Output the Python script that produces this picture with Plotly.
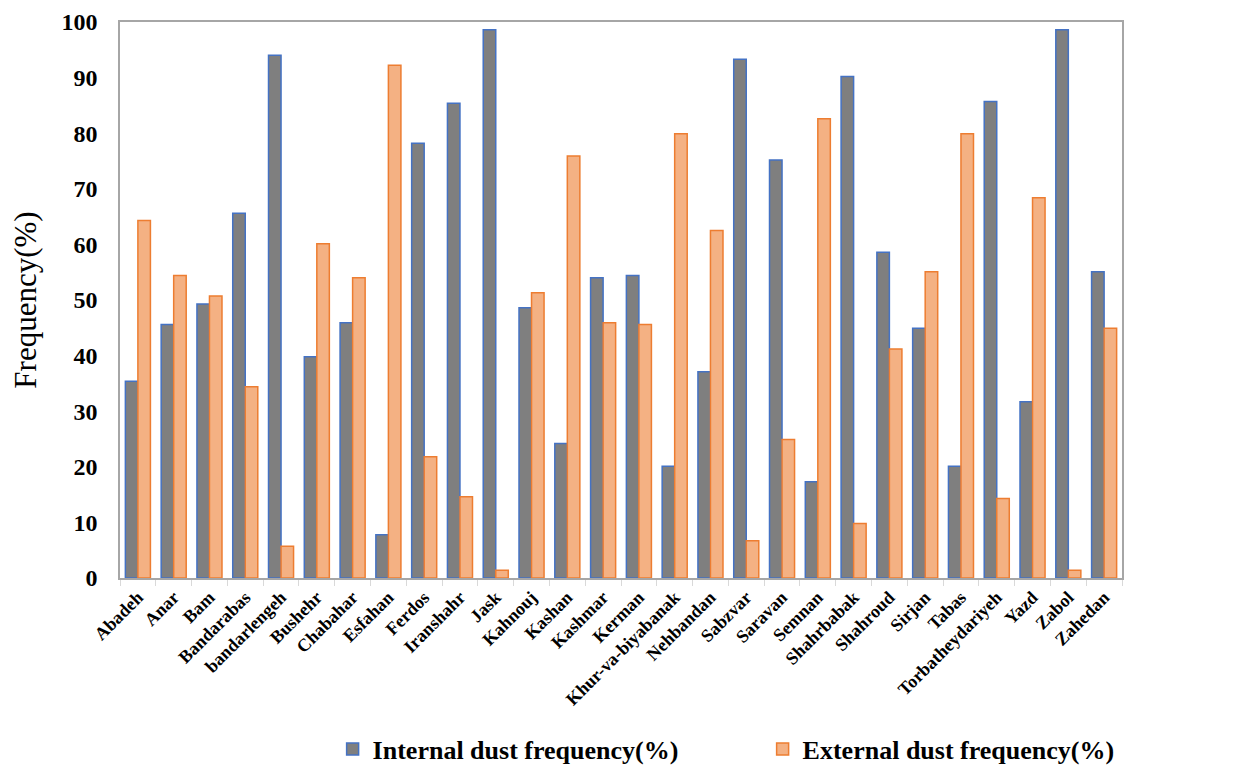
import plotly.graph_objects as go

stations = ["Abadeh", "Anar", "Bam", "Bandarabas", "bandarlengeh", "Bushehr", "Chabahar",
            "Esfahan", "Ferdos", "Iranshahr", "Jask", "Kahnouj", "Kashan", "Kashmar", "Kerman",
            "Khur-va-biyabanak", "Nehbandan", "Sabzvar", "Saravan", "Semnan", "Shahrbabak",
            "Shahroud", "Sirjan", "Tabas", "Torbatheydariyeh", "Yazd", "Zabol", "Zahedan"]
internal = [35.4, 45.6, 49.3, 65.6, 94.0, 39.8, 45.9, 7.8, 78.2, 85.4, 98.6, 48.6, 24.2, 54.0,
            54.4, 20.1, 37.1, 93.3, 75.2, 17.3, 90.2, 58.6, 44.9, 20.1, 85.7, 31.7, 98.6, 55.1]
external = [64.3, 54.4, 50.7, 34.4, 5.7, 60.1, 54.0, 92.2, 21.8, 14.6, 1.4, 51.3, 75.9, 45.9,
            45.6, 79.9, 62.5, 6.7, 24.9, 82.6, 9.8, 41.2, 55.1, 79.9, 14.3, 68.4, 1.4, 44.9]
y_ticks = [0, 10, 20, 30, 40, 50, 60, 70, 80, 90, 100]

font_family = "Liberation Serif, Times New Roman, serif"

fig = go.Figure()
fig.add_trace(go.Bar(x=stations, y=internal, name="Internal dust frequency(%)",
                     marker=dict(color="#7f7f7f", line=dict(color="#4472C4", width=1.5))))
fig.add_trace(go.Bar(x=stations, y=external, name="External dust frequency(%)",
                     marker=dict(color="#F4B183", line=dict(color="#ED7D31", width=1.5))))

fig.update_layout(
    width=1239, height=772,
    paper_bgcolor="white", plot_bgcolor="white",
    margin=dict(l=112, r=125, t=14, b=202, autoexpand=False),
    barmode="group", bargap=0.3, bargroupgap=0.0,
    font=dict(family=font_family, color="black"),
    legend=dict(orientation="h", xref="container", yref="container",
                x=0.262, xanchor="left", y=0.04, yanchor="middle",
                font=dict(size=26, family=font_family, color="black", weight="bold"),
                itemwidth=30, tracegroupgap=0, entrywidth=385,
                bgcolor="rgba(0,0,0,0)"),
    showlegend=True,
)
fig.update_xaxes(
    type="category", tickangle=-45, tickson="boundaries",
    ticks="outside", ticklen=6, tickcolor="#d9d9d9",
    showline=True, linecolor="#a6a6a6", linewidth=1.5, mirror=True,
    showgrid=False,
    tickfont=dict(size=18, family=font_family, color="black", weight="bold"),
)
fig.update_yaxes(
    range=[0, 100], tickvals=y_ticks, ticktext=[str(v) for v in y_ticks],
    showline=True, linecolor="#a6a6a6", linewidth=1.5, mirror=True,
    showgrid=False, ticks="", zeroline=False, ticklabelstandoff=16,
    tickfont=dict(size=24, family=font_family, color="black", weight="bold"),
    title=dict(text="Frequency(%)", standoff=18,
               font=dict(size=31, family=font_family, color="black")),
)

fig.write_html("out.html")
